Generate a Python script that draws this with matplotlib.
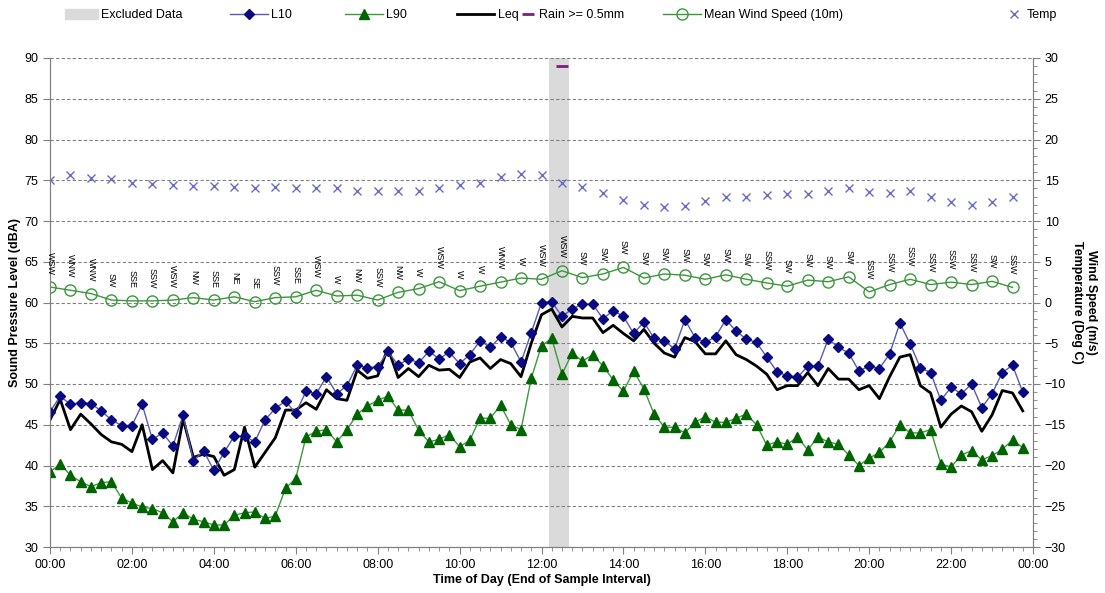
import numpy as np
import matplotlib
matplotlib.use("Agg")
import matplotlib.pyplot as plt
from matplotlib.lines import Line2D
from matplotlib.patches import Patch
from matplotlib.ticker import MultipleLocator

plt.rcParams['font.family'] = ['Liberation Sans', 'DejaVu Sans']

# 15 minute noise levels (dBA), from 00:00 to 23:45
l10 = [46.6, 48.5, 47.5, 47.7, 47.6, 46.7, 45.6, 44.9, 44.9, 47.5, 43.2, 44.0, 42.4, 46.2,
       40.6, 41.8, 39.4, 41.6, 43.6, 43.6, 42.9, 45.6, 47.0, 47.9, 46.4, 49.1, 48.8,
       50.9, 48.8, 49.8, 52.3, 52.0, 52.1, 54.0, 52.3, 53.1, 52.6, 54.0, 53.1, 53.9, 52.5,
       53.6, 55.3, 54.5, 55.8, 55.1, 52.7, 56.3, 60.0, 60.1, 58.3, 59.2,
       59.8, 59.8, 58.0, 59.0, 58.3, 56.2, 57.6, 55.6, 55.3, 54.3, 57.9, 55.7, 55.1, 55.8,
       57.9, 56.5, 55.5, 55.1, 53.3, 51.5, 51.0, 50.8, 52.2, 52.2, 55.5, 54.5,
       53.8, 51.6, 52.2, 51.9, 53.7, 57.5, 54.9, 52.0, 51.4, 48.0, 49.6, 48.8, 50.0, 47.1,
       48.8, 51.4, 52.3, 49.0]
l90 = [39.2, 40.2, 38.8, 38.0, 37.4, 37.9, 38.0, 36.0, 35.4, 34.9, 34.7, 34.2, 33.1, 34.2,
       33.4, 33.1, 32.7, 32.7, 33.9, 34.2, 34.3, 33.5, 33.8, 37.2, 38.4, 43.5, 44.2,
       44.4, 42.9, 44.4, 46.3, 47.3, 48.0, 48.5, 46.8, 46.8, 44.3, 42.9, 43.2, 43.8, 42.3,
       43.1, 45.8, 45.8, 47.4, 45.0, 44.4, 50.7, 54.7, 55.6, 51.2, 53.8,
       52.8, 53.6, 52.2, 50.5, 49.1, 51.6, 49.4, 46.3, 44.7, 44.7, 44.0, 45.3, 46.0, 45.3,
       45.3, 45.8, 46.3, 45.0, 42.5, 42.9, 42.6, 43.5, 41.9, 43.5, 42.9, 42.6,
       41.3, 40.0, 40.9, 41.6, 42.9, 45.0, 44.0, 44.0, 44.4, 40.2, 39.8, 41.3, 41.8, 40.7,
       41.2, 42.0, 43.1, 42.2]
leq = [45.6, 48.1, 44.4, 46.3, 45.1, 43.8, 42.9, 42.6, 41.7, 45.0, 39.5, 40.6, 39.1, 45.7,
       41.0, 41.4, 41.1, 38.8, 39.5, 44.7, 39.8, 41.6, 43.4, 46.8, 46.8, 47.7, 46.9,
       49.3, 48.2, 48.0, 51.7, 50.7, 51.0, 54.4, 50.8, 51.9, 50.9, 52.3, 51.7, 51.8, 50.8,
       52.7, 53.2, 51.9, 53.0, 52.5, 50.9, 55.0, 58.5, 59.2, 57.0, 58.3,
       58.1, 58.1, 56.3, 57.2, 56.2, 55.3, 56.7, 55.0, 53.8, 53.3, 55.7, 55.2, 53.7, 53.7,
       55.3, 53.6, 53.0, 52.2, 51.2, 49.3, 49.8, 49.8, 51.4, 49.8, 51.9, 50.6,
       50.6, 49.3, 49.8, 48.2, 50.9, 53.3, 53.6, 49.8, 48.9, 44.7, 46.3, 47.3, 46.6, 44.2,
       46.2, 49.2, 48.9, 46.7]

# 30 minute weather data, from 00:00 to 23:30
wind = [1.9, 1.5, 1.1, 0.3, 0.2, 0.2, 0.3, 0.6, 0.3, 0.7,
        0.1, 0.6, 0.7, 1.5, 0.8, 0.9, 0.3, 1.25, 1.7, 2.55,
        1.45, 2.0, 2.5, 3.0, 2.85, 3.9, 3.05, 3.5, 4.3, 3.0,
        3.5, 3.35, 2.85, 3.4, 2.85, 2.4, 2.0, 2.75, 2.55, 3.15,
        1.3, 2.2, 2.85, 2.2, 2.5, 2.2, 2.6, 1.85]
wind_dir = ['WSW', 'WNW', 'WNW', 'SW', 'SSE', 'SSW', 'WSW', 'NW', 'SSE', 'NE',
            'SE', 'SSW', 'SSE', 'WSW', 'W', 'NW', 'SSW', 'NW', 'W', 'WSW',
            'W', 'W', 'WNW', 'W', 'WSW', 'WSW', 'SW', 'SW', 'SW', 'SW',
            'SW', 'SW', 'SW', 'SW', 'SW', 'SSW', 'SW', 'SW', 'SW', 'SW',
            'SSW', 'SSW', 'SSW', 'SSW', 'SSW', 'SSW', 'SW', 'SSW']
temp = [15.0, 15.7, 15.3, 15.1, 14.7, 14.5, 14.4, 14.3, 14.3, 14.2,
        14.0, 14.2, 14.0, 14.0, 14.0, 13.7, 13.7, 13.7, 13.7, 14.1,
        14.4, 14.7, 15.4, 15.8, 15.6, 14.7, 14.2, 13.4, 12.6, 12.0,
        11.7, 11.9, 12.4, 13.0, 13.0, 13.2, 13.3, 13.3, 13.7, 14.0,
        13.6, 13.4, 13.7, 12.9, 12.3, 12.0, 12.3, 13.0]

rain_time = [12.5]
rain_level = [89]
excluded = (12 + 11 / 60, 12 + 41 / 60)

t15 = np.arange(len(l10)) * 0.25
t30 = np.arange(len(wind)) * 0.5

fig = plt.figure(figsize=(11.05, 5.93), dpi=100)
ax = fig.add_axes([50 / 1105, 1 - 547 / 593, 983 / 1105, 489 / 593])
ax2 = ax.twinx()

ax.axvspan(*excluded, color='#dadada', lw=0, zorder=0)

ax.plot(t15, l90, color='#3c9a3c', lw=1, marker='^', ms=7,
        mfc='#006400', mec='#006400', zorder=3)
ax.plot(t15, leq, color='black', lw=2, zorder=4)
ax.plot(t15, l10, color='#5a5ab4', lw=1, marker='D', ms=5.5,
        mfc='#0a0a80', mec='#0a0a80', zorder=5)
ax.plot(rain_time, rain_level, ls='none', marker='_', ms=8, mew=2,
        color='#7a1f7a', zorder=5)

ax2.plot(t30, wind, color='#3c963c', lw=1, marker='o', ms=8, mfc='none',
         mec='#3c963c', mew=1)
ax2.plot(t30, temp, ls='none', marker='x', ms=6, mew=1, color='#6a6ac8')
for t, w, d in zip(t30, wind, wind_dir):
    ax2.annotate(d, (t, w), xytext=(0, 9), textcoords='offset points',
                 rotation=270, ha='center', va='bottom', fontsize=6.5)

ax.set_xlim(0, 24)
ax.set_ylim(30, 90)
ax2.set_ylim(-30, 30)
ax.set_xticks(np.arange(0, 25, 2))
ax.set_xticklabels(['%02d:00' % (h % 24) for h in range(0, 25, 2)])
ax.xaxis.set_minor_locator(MultipleLocator(0.25))
ax.set_yticks(np.arange(30, 91, 5))
ax2.set_yticks(np.arange(-30, 31, 5))
ax2.yaxis.set_minor_locator(MultipleLocator(1))

ax.grid(axis='y', color='#808080', ls=(0, (3, 2)), lw=0.8)
ax.set_axisbelow(True)
for a in (ax, ax2):
    a.spines['top'].set_visible(False)
    for s in ('left', 'right', 'bottom'):
        a.spines[s].set_color('#808080')
    a.tick_params(which='both', colors='#808080', labelcolor='black', labelsize=9)
    a.tick_params(which='major', length=5)
    a.tick_params(which='minor', length=3)

ax.set_xlabel('Time of Day (End of Sample Interval)', fontsize=9, fontweight='bold', labelpad=2)
ax.set_ylabel('Sound Pressure Level (dBA)', fontsize=9, fontweight='bold', labelpad=2)
ax2.set_ylabel('Wind Speed (m/s)\nTemperature (Deg C)', fontsize=9, fontweight='bold',
               rotation=270, labelpad=22)

# legend entries, each placed on its own along the top row (left edge in px, handle length)
entries = [
    (65, 2.6, Patch(color='#dadada', label='Excluded Data')),
    (230, 3.0, Line2D([], [], color='#5a5ab4', lw=1, marker='D', ms=5.5, mfc='#0a0a80',
                      mec='#0a0a80', label='L10')),
    (345, 3.0, Line2D([], [], color='#3c9a3c', lw=1, marker='^', ms=7, mfc='#006400',
                      mec='#006400', label='L90')),
    (457, 3.0, Line2D([], [], color='black', lw=2, label='Leq')),
    (520, 1.2, Line2D([], [], ls='none', marker='_', ms=8, mew=2, color='#7a1f7a',
                      label='Rain >= 0.5mm')),
    (663, 3.0, Line2D([], [], color='#3c963c', lw=1, marker='o', ms=8, mfc='none',
                      mec='#3c963c', label='Mean Wind Speed (10m)')),
    (1005, 1.4, Line2D([], [], ls='none', marker='x', ms=6, mew=1, color='#6a6ac8',
                       label='Temp')),
]
for x0, hl, h in entries:
    fig.legend(handles=[h], loc='center left', bbox_to_anchor=(x0 / 1105, 1 - 15 / 593),
               frameon=False, fontsize=9, handlelength=hl, handleheight=0.9,
               borderpad=0, borderaxespad=0, handletextpad=0.3)

fig.savefig('out.png', dpi=100)
